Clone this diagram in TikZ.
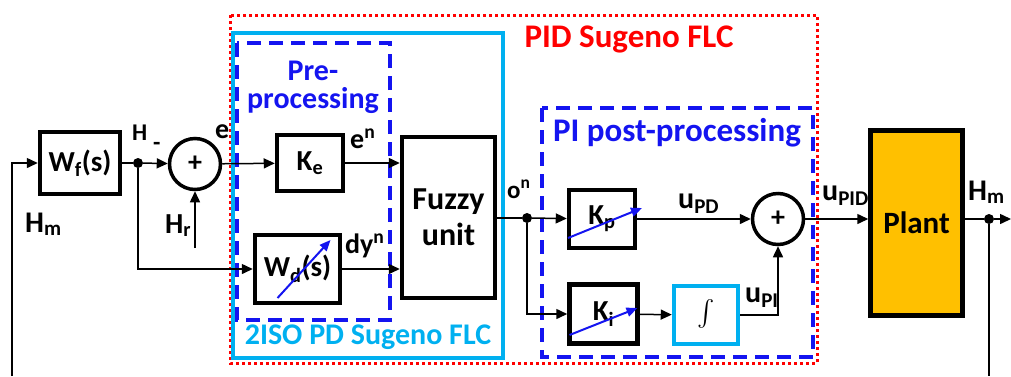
\documentclass[tikz,border=0pt]{standalone}
\usepackage{fontspec}
\setmainfont{Carlito}
\usetikzlibrary{arrows.meta}
\definecolor{preBlue}{HTML}{1414F0}
\definecolor{isoCyan}{HTML}{00B0F0}
\definecolor{plantFill}{HTML}{FFC000}
\definecolor{flcRed}{HTML}{FF0000}
\newcommand{\fsz}[1]{\bfseries\fontsize{#1}{#1}\selectfont}

\begin{document}
\begin{tikzpicture}[x=1pt, y=-1pt, font=\fsz{29},
    blk/.style={draw, line width=4.5pt, inner sep=0pt, font=\fsz{29}},
    sumc/.style={circle, draw, line width=3.5pt, minimum size=51pt, inner sep=0pt, font=\fsz{28}},
    sig/.style={line width=1.5pt, -{Triangle[length=11pt,width=10pt]}},
    wire/.style={line width=1.5pt},
    tune/.style={draw=preBlue, line width=2pt, -{Triangle[length=11pt,width=9pt]}},
    junc/.style={circle, fill, inner sep=0pt, minimum size=10pt},
    grp/.style={draw=preBlue, line width=3.5pt, dash pattern=on 14pt off 8pt},
    lbl/.style={anchor=base west, inner sep=0pt}]
    \useasboundingbox (0,0) rectangle (1011,376);
    % frames
    \draw[flcRed, line width=3pt, dash pattern=on 3pt off 3pt] (230,15) rectangle (817,363);
    \draw[isoCyan, line width=3.5pt] (233,33) rectangle (503,358);
    \draw[grp] (237,43) rectangle (390,320);
    \draw[grp] (542,108) rectangle (813,357);
    \node[flcRed, font=\fsz{33}] (ttl) at (629,39) {PID Sugeno FLC};
    \node[preBlue, align=center, font=\bfseries\fontsize{30}{28}\selectfont, inner sep=0pt] (prettl) at (313,87) {Pre-\\processing};
    \node[isoCyan, font=\fsz{30}] (isottl) at (368,337) {2ISO PD Sugeno FLC};
    \node[preBlue, font=\fsz{33}] (postttl) at (677,133) {PI post-processing};
    % blocks
    \node[blk, minimum width=80pt, minimum height=62pt] (wf) at (80,163) {W\textsubscript{f}(s)};
    \node[sumc] (s1) at (195,164) {+};
    \node[blk, minimum width=66pt, minimum height=56pt] (ke) at (310,163) {K\textsubscript{e}};
    \node[blk, minimum width=85pt, minimum height=68pt] (wd) at (297.5,269) {W\textsubscript{d}(s)};
    \node[blk, minimum width=93pt, minimum height=161pt, align=center, font=\bfseries\fontsize{32}{36}\selectfont] (fz) at (448.5,217.5) {Fuzzy\\unit};
    \node[blk, minimum width=66pt, minimum height=58pt] (kp) at (602,219) {K\textsubscript{p}};
    \node[sumc] (s2) at (778,219) {+};
    \node[blk, minimum width=68pt, minimum height=59pt] (ki) at (603.5,314) {K\textsubscript{i}};
    \node[blk, draw=isoCyan, minimum width=64pt, minimum height=58pt] (intg) at (706,315) {\scalebox{2.6}{$\int$}};
    \node[blk, fill=plantFill, minimum width=92pt, minimum height=185pt, font=\fsz{31}] (pl) at (916.5,223) {Plant};
    \node[junc] (jh) at (138,163) {};
    \node[junc] (jo) at (527,218) {};
    \node[junc] (jm) at (989,219) {};
    \coordinate (fbl) at (12,376);
    \coordinate (hrin) at (195,248);
    \coordinate (mout) at (1011,219);
    \coordinate (mbot) at (989,376);
    % signals
    \draw[sig] (fbl) |- (wf.west);
    \draw[wire] (wf) -- (jh);
    \draw[sig] (jh) -- (s1);
    \draw[sig] (hrin) -- (s1);
    \draw[sig] (s1) -- (ke);
    \draw[sig] (jh) |- (wd.west);
    \draw[sig] (ke) -- (ke -| fz.west);
    \draw[sig] (wd) -- (wd -| fz.west);
    \draw[wire] (fz.east |- jo) -- (jo);
    \draw[sig] (jo) -- (kp);
    \draw[sig] (jo) |- (ki.west);
    \draw[sig] (kp) -- (s2);
    \draw[sig] (ki) -- (intg);
    \draw[sig] (intg) -| (s2.south);
    \draw[sig] (s2) -- (s2 -| pl.west);
    \draw[wire] (pl.east |- jm) -- (jm);
    \draw[sig] (jm) -- (mout);
    \draw[wire] (jm) -- (mbot);
    % tunable gains
    \draw[tune] ([shift={(-20,29)}]wd.center) -- ([shift={(33,-29)}]wd.center);
    \draw[tune] ([shift={(-34,19)}]kp.center) -- ([shift={(40,-11)}]kp.center);
    \draw[tune] ([shift={(-34,21)}]ki.center) -- ([shift={(34,-6)}]ki.center);
    % labels
    \node[lbl, font=\fsz{24}] (lh) at (132,140) {H};
    \node[lbl, font=\fsz{24}] (lminus) at (153,150) {-};
    \node[lbl, font=\fsz{28}] (le) at (215,138) {e};
    \node[lbl] (lhr) at (165,233) {H\textsubscript{r}};
    \node[lbl, font=\fsz{30}] (lhm) at (25,232) {H\textsubscript{m}};
    \node[lbl, font=\fsz{28}] (len) at (350,148) {e\textsuperscript{n}};
    \node[lbl, font=\fsz{28}] (ldy) at (345,253) {dy\textsuperscript{n}};
    \node[lbl, font=\fsz{25}] (lon) at (507,198) {o\textsuperscript{n}};
    \node[lbl, font=\fsz{30}] (lupd) at (678,208) {u\textsubscript{PD}};
    \node[lbl, font=\fsz{30}] (lupi) at (745,302) {u\textsubscript{PI}};
    \node[lbl, font=\fsz{30}] (lupid) at (822,200) {u\textsubscript{PID}};
    \node[lbl, font=\fsz{30}] (lhm2) at (968,200) {H\textsubscript{m}};
\end{tikzpicture}
\end{document}
